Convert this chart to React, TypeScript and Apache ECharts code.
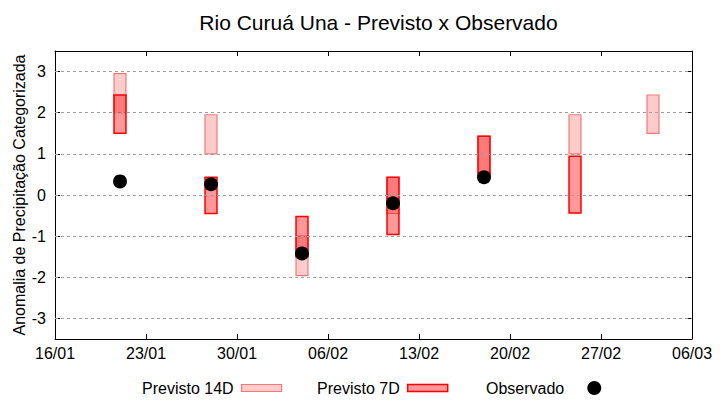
import React, { useEffect, useRef } from "react";
import * as echarts from "echarts";

const FONT = "Liberation Sans";
const START = "16/01";
const YEAR = 2023;
const tickLabels = ["16/01", "23/01", "30/01", "06/02", "13/02", "20/02", "27/02", "06/03"];
const yTicks = [-3, -2, -1, 0, 1, 2, 3];

const dates14 = ["21/01", "28/01", "04/02", "11/02", "18/02", "25/02", "03/03"];
const low14 = [2.0, 1.0, -1.96, -0.45, 0.45, 1.0, 1.5];
const high14 = [2.95, 1.95, -1.0, 0.43, 1.43, 1.95, 2.43];

const dates7 = ["21/01", "28/01", "04/02", "11/02", "18/02", "25/02"];
const low7 = [1.5, -0.45, -1.5, -0.96, 0.45, -0.44];
const high7 = [2.43, 0.43, -0.52, 0.43, 1.43, 0.94];

const datesObs = ["21/01", "28/01", "04/02", "11/02", "18/02"];
const observed = [0.33, 0.26, -1.42, -0.2, 0.43];

function toUTC(s: string) {
  const [d, m] = s.split("/").map(Number);
  return Date.UTC(YEAR, m - 1, d);
}
function toDay(s: string) {
  return (toUTC(s) - toUTC(START)) / 86400000;
}
const xMax = toDay(tickLabels[tickLabels.length - 1]);

function boxRender(fill: string, stroke: string, lw: number) {
  return (params: any, api: any) => {
    const x = api.value(0);
    const lo = api.value(1);
    const hi = api.value(2);
    const p1 = api.coord([x - 0.46, hi]);
    const p2 = api.coord([x + 0.46, lo]);
    return {
      type: "rect",
      shape: { x: p1[0], y: p1[1], width: p2[0] - p1[0], height: p2[1] - p1[1] },
      style: { fill, stroke, lineWidth: lw },
    };
  };
}

export default function App() {
  const ref = useRef<HTMLDivElement>(null);
  useEffect(() => {
    document.body.style.margin = "0";
    const chart = echarts.init(ref.current!, null, { renderer: "svg" });
    const text = { fontFamily: FONT, fontSize: 16, color: "#000" };
    const axisLine = { show: true, onZero: false, lineStyle: { color: "#000", width: 1 } };
    const tick = { show: true, inside: true, length: 5, lineStyle: { color: "#000" } };
    const fill14 = "rgba(255,0,0,0.2)";
    const stroke14 = "#f47a7a";
    const fill7 = "rgba(255,0,0,0.4)";
    const stroke7 = "#ff0000";
    const legendBase = {
      top: 380,
      align: "right",
      padding: 0,
      itemWidth: 40,
      itemHeight: 7,
      selectedMode: false,
      textStyle: { ...text, padding: [0, 3, 0, 0] },
    };
    chart.setOption({
      animation: false,
      title: {
        text: "Rio Curuá Una - Previsto x Observado",
        left: 373.5,
        textAlign: "center",
        top: 7,
        textStyle: { fontFamily: FONT, fontSize: 21, fontWeight: "normal", color: "#000" },
      },
      grid: { left: 55, top: 51, right: 28, bottom: 61, containLabel: false, show: false },
      xAxis: [
        {
          type: "value",
          min: 0,
          max: xMax,
          interval: 7,
          position: "bottom",
          axisLine,
          axisTick: tick,
          axisLabel: {
            ...text,
            margin: 6,
            formatter: (v: number) => tickLabels[Math.round(v / 7)] ?? "",
          },
          splitLine: { show: false },
        },
        {
          type: "value",
          min: 0,
          max: xMax,
          interval: 7,
          position: "top",
          axisLine,
          axisTick: tick,
          axisLabel: { show: false },
          splitLine: { show: false },
        },
      ],
      yAxis: [
        {
          type: "value",
          min: -3.5,
          max: 3.5,
          position: "left",
          name: "Anomalia de Precipitação Categorizada",
          nameLocation: "middle",
          nameRotate: 90,
          nameGap: 28,
          nameMoveOverlap: false,
          nameTextStyle: { ...text },
          axisLine,
          axisTick: { ...tick, customValues: yTicks },
          axisLabel: { ...text, margin: 9, customValues: yTicks },
          splitLine: { show: false },
        },
        {
          type: "value",
          min: -3.5,
          max: 3.5,
          position: "right",
          axisLine,
          axisTick: { ...tick, customValues: yTicks },
          axisLabel: { show: false, customValues: yTicks },
          splitLine: { show: false },
        },
      ],
      legend: [
        {
          ...legendBase,
          data: [{ name: "Previsto 14D", icon: "rect", itemStyle: { color: fill14, borderColor: stroke14, borderWidth: 1.2 } }],
          left: 142,
        },
        {
          ...legendBase,
          data: [{ name: "Previsto 7D", icon: "rect", itemStyle: { color: fill7, borderColor: stroke7, borderWidth: 1.5 } }],
          left: 317,
        },
        {
          ...legendBase,
          data: [{ name: "Observado", icon: "circle", itemStyle: { color: "#000", opacity: 1 } }],
          left: 486,
          itemWidth: 14,
          itemHeight: 14,
          textStyle: { ...text, padding: [0, 18, 0, 0] },
        },
      ],
      series: [
        {
          name: "Grid",
          type: "line",
          data: [],
          silent: true,
          markLine: {
            silent: true,
            symbol: "none",
            label: { show: false },
            lineStyle: { color: "#a0a0a0", type: [3, 3], width: 1 },
            data: yTicks.map((v) => ({ yAxis: v })),
          },
        },
        {
          name: "Previsto 14D",
          type: "custom",
          renderItem: boxRender(fill14, stroke14, 1.2),
          itemStyle: { color: fill14, borderColor: stroke14 },
          data: dates14.map((d, i) => [toDay(d), low14[i], high14[i]]),
          z: 3,
        },
        {
          name: "Previsto 7D",
          type: "custom",
          renderItem: boxRender(fill7, stroke7, 1.5),
          itemStyle: { color: fill7, borderColor: stroke7 },
          data: dates7.map((d, i) => [toDay(d), low7[i], high7[i]]),
          z: 4,
        },
        {
          name: "Observado",
          type: "scatter",
          symbol: "circle",
          symbolSize: 14,
          itemStyle: { color: "#000", opacity: 1 },
          data: datesObs.map((d, i) => [toDay(d), observed[i]]),
          z: 5,
        },
      ],
    });
    return () => chart.dispose();
  }, []);
  return <div ref={ref} style={{ width: 720, height: 400 }} />;
}
